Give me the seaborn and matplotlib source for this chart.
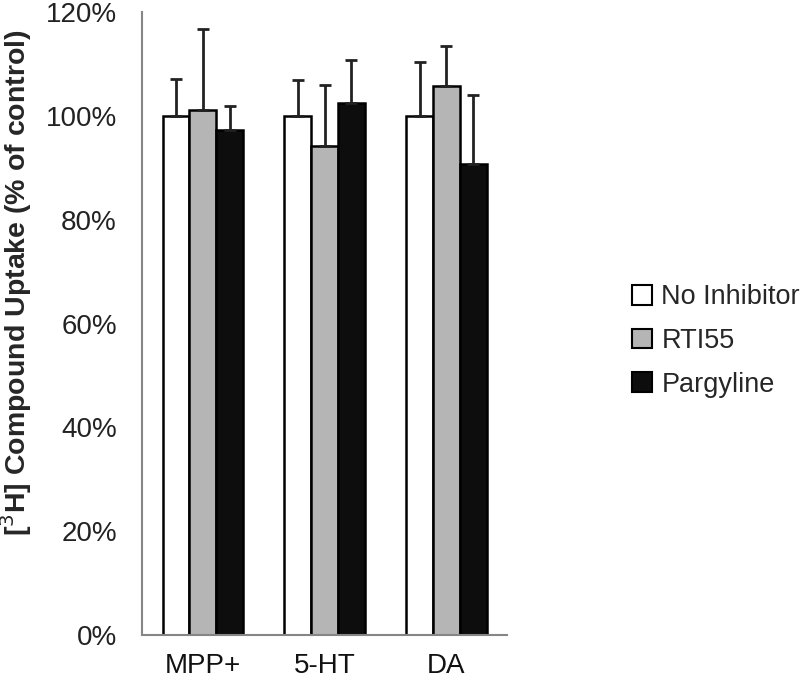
import matplotlib.pyplot as plt
import seaborn as sns
import pandas as pd
from matplotlib.ticker import FuncFormatter, FixedLocator

compounds = ["MPP+", "5-HT", "DA"]
conditions = ["No Inhibitor", "RTI55", "Pargyline"]
means = {
    "No Inhibitor": [100.0, 100.0, 100.0],
    "RTI55": [101.2, 94.2, 105.8],
    "Pargyline": [97.2, 102.4, 90.7],
}
errors = {
    "No Inhibitor": [7.1, 6.9, 10.3],
    "RTI55": [15.6, 11.7, 7.7],
    "Pargyline": [4.7, 8.4, 13.4],
}
colors = ["#ffffff", "#b5b5b5", "#0d0d0d"]

rows = []
for c in conditions:
    for comp, m, e in zip(compounds, means[c], errors[c]):
        rows.append({"compound": comp, "condition": c, "value": m, "err": e})
df = pd.DataFrame(rows)

sns.set_style("white")
plt.rcParams["font.family"] = ["Liberation Sans", "DejaVu Sans"]

fig = plt.figure(figsize=(8, 6.83), dpi=100)
ax = fig.add_axes([0.1775, 0.0703, 0.4565, 0.9121])

sns.barplot(data=df, x="compound", y="value", hue="condition",
            order=compounds, hue_order=conditions, palette=colors,
            errorbar=None, width=0.66, edgecolor="black", linewidth=1.8,
            saturation=1, ax=ax, legend=False)

# upper error bars, placed on the bars seaborn drew
for ci, c in enumerate(conditions):
    cont = ax.containers[ci]
    for bar, m, e in zip(cont, means[c], errors[c]):
        xc = bar.get_x() + bar.get_width() / 2
        ax.errorbar(xc, m, yerr=[[0], [e]], fmt="none", ecolor="#222222",
                    elinewidth=2, capsize=4.5, capthick=2, zorder=1)

ax.set_ylim(0, 120)
ax.set_xlim(-0.5, 2.5)
ax.set_yticks(range(0, 121, 20))
ax.yaxis.set_major_formatter(FuncFormatter(lambda v, p: f"{int(v)}%"))
ax.xaxis.set_minor_locator(FixedLocator([-0.5, 0.5, 1.5, 2.5]))
ax.tick_params(axis="x", which="major", length=0, pad=13, labelsize=20,
               labelcolor="#111111")
ax.tick_params(axis="x", which="minor", length=9, width=1.5,
               color="#868686", direction="out")
ax.tick_params(axis="y", length=8, width=1.5, color="#868686",
               direction="out", labelsize=20, labelcolor="#222222", pad=10)

for s in ["top", "right"]:
    ax.spines[s].set_visible(False)
for s in ["left", "bottom"]:
    ax.spines[s].set_color("#868686")
    ax.spines[s].set_linewidth(1.5)

ax.set_xlabel("")
ax.set_ylabel("[$^{3}$H] Compound Uptake (% of control)", fontsize=20.5,
              fontweight="bold")
ax.yaxis.set_label_coords(-0.295, 0.565)

handles = [plt.Rectangle((0, 0), 1, 1, facecolor=col, edgecolor="black",
                         linewidth=1.5) for col in colors]
fig.legend(handles, conditions, loc="center left",
           bbox_to_anchor=(0.7725, 1 - 341 / 683), frameon=False,
           fontsize=19.5, handlelength=0.75, handleheight=0.75,
           handletextpad=0.35, labelspacing=0.65, borderpad=0)

plt.savefig("out.png", dpi=100)
